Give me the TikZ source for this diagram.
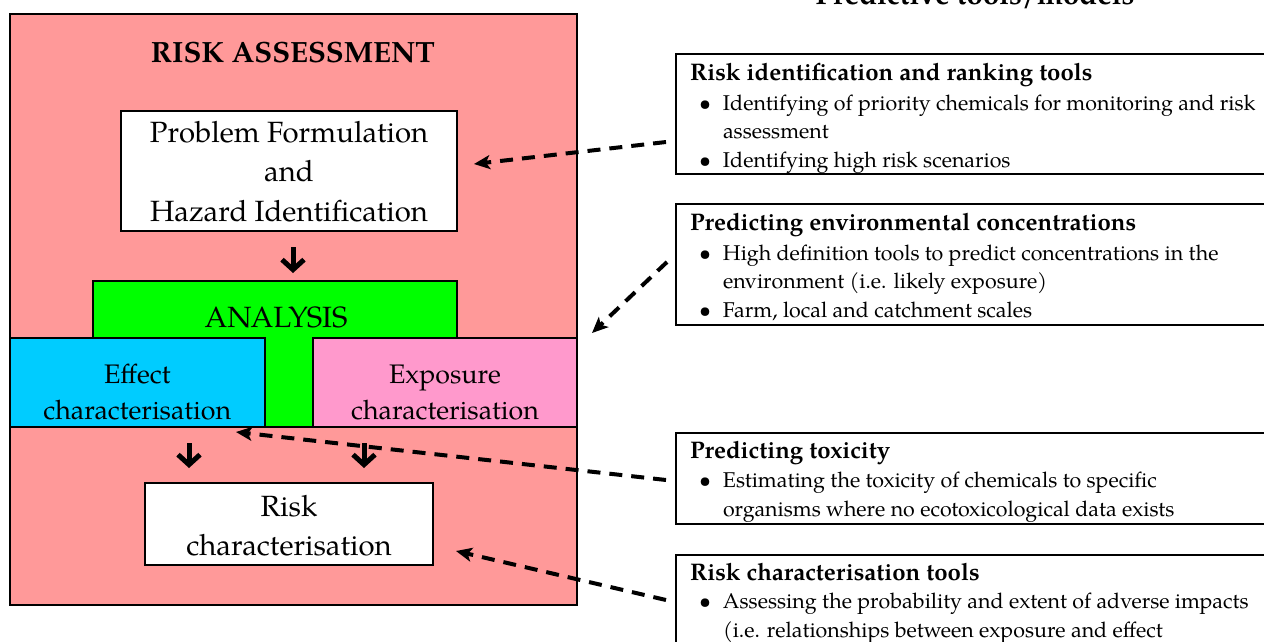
\documentclass[tikz,border=0pt]{standalone}
\usepackage{fontspec}
\setmainfont{TeX Gyre Pagella}
\usetikzlibrary{arrows.meta,calc}
\definecolor{salmonbg}{HTML}{FF9999}
\definecolor{limeg}{HTML}{00FF00}
\definecolor{cyanb}{HTML}{00CCFF}
\definecolor{pinkb}{HTML}{FF99CC}
\newcommand{\bul}{\makebox[33pt][l]{\hspace*{9pt}\textbullet}}
\newcommand{\ind}{\hspace*{33pt}}
\newcommand{\hd}[1]{{\fontsize{24}{28.5}\selectfont\bfseries #1}}
\begin{document}
\begin{tikzpicture}[x=1pt,y=-1pt,
  bigfont/.style={font=\fontsize{29.3}{39.5}\selectfont},
  midfont/.style={font=\fontsize{26.8}{36}\selectfont},
  smallfont/.style={font=\fontsize{21.4}{28.5}\selectfont},
  frame/.style={draw=black, line width=2pt},
  boxnode/.style={frame, inner sep=0pt, outer sep=0pt},
  plain/.style={inner sep=0pt, outer sep=0pt},
  downarr/.style={line width=5pt, -{Straight Barb[length=10pt,width=22pt]}},
  dasharr/.style={line width=4pt, dash pattern=on 13pt off 9pt, -{Stealth[length=16pt,width=14pt,inset=4pt]}},
]
\useasboundingbox (0,0) rectangle (1264,641);

% ---------- left: risk assessment ----------
\node[boxnode, fill=salmonbg, minimum width=567.4, minimum height=591] (ra) at (293.3,309.5) {};
\node[plain, font=\bfseries\fontsize{29.3}{39.5}\selectfont, anchor=base] (rat) at (293,62.3) {RISK ASSESSMENT};

\node[boxnode, fill=white, minimum width=336, minimum height=120] (prob) at (289,171) {};
\node[plain, bigfont, anchor=base] (probt) at (289,142)
  {\begin{tabular}[t]{@{}c@{}}Problem Formulation\\ and\\ Hazard Identification\end{tabular}};

% green T
\node[plain, minimum width=364, minimum height=57] (anal) at (275,309.5) {};
\filldraw[fill=limeg, draw=black, line width=2pt]
  (93,281) -- (457,281) -- (457,338) -- (313,338) -- (313,427) -- (265,427) -- (265,338) -- (93,338) -- cycle;
\node[plain, bigfont, anchor=base] (analt) at (276,327) {ANALYSIS};

\node[boxnode, fill=cyanb, minimum width=255.4, minimum height=89] (eff) at (137.3,382.5) {};
\node[plain, midfont, anchor=base] (efft) at (137.3,383)
  {\begin{tabular}[t]{@{}c@{}}Effect\\ characterisation\end{tabular}};
\node[boxnode, fill=pinkb, minimum width=264, minimum height=89] (expo) at (445,382.5) {};
\node[plain, midfont, anchor=base] (expot) at (445,383)
  {\begin{tabular}[t]{@{}c@{}}Exposure\\ characterisation\end{tabular}};

\node[boxnode, fill=white, minimum width=288, minimum height=82] (risk) at (289,524) {};
\node[plain, font=\fontsize{29.3}{39}\selectfont, anchor=base] (riskt) at (289,516)
  {\begin{tabular}[t]{@{}c@{}}Risk\\ characterisation\end{tabular}};

% down arrows
\coordinate (pa) at ([xshift=4pt]prob.south);
\draw[downarr, shorten <=16pt, shorten >=8pt] (pa) -- (pa |- anal.north);
\coordinate (ea) at ([xshift=51.7pt]eff.south);
\draw[downarr, shorten <=16pt, shorten >=15pt] (ea) -- (ea |- risk.north);
\coordinate (xa) at ([xshift=-81pt]expo.south);
\draw[downarr, shorten <=16pt, shorten >=15pt] (xa) -- (xa |- risk.north);

% ---------- right: predictive tools ----------
\node[plain, font=\bfseries\fontsize{29.3}{36}\selectfont, anchor=base] (title) at (975,4.5) {Predictive tools/models};

\node[plain, minimum width=620, minimum height=120, anchor=north west] (b1) at (676,54) {};
\draw[frame] (b1.north east) -- (b1.north west) -- (b1.south west) -- (b1.south east);
\node[plain, smallfont, anchor=base west] (t1) at (690,80)
  {\begin{tabular}[t]{@{}l@{}}\hd{Risk identification and ranking tools}\\[1.5pt]
   \bul Identifying of priority chemicals for monitoring and risk\\
   \ind assessment\\
   \bul Identifying high risk scenarios\end{tabular}};

\node[plain, minimum width=620, minimum height=121, anchor=north west] (b2) at (676,204) {};
\draw[frame] (b2.north east) -- (b2.north west) -- (b2.south west) -- (b2.south east);
\node[plain, smallfont, anchor=base west] (t2) at (690,230)
  {\begin{tabular}[t]{@{}l@{}}\hd{Predicting environmental concentrations}\\[1.5pt]
   \bul High definition tools to predict concentrations in the\\
   \ind environment (i.e. likely exposure)\\
   \bul Farm, local and catchment scales\end{tabular}};

\node[plain, minimum width=620, minimum height=91, anchor=north west] (b3) at (676,433) {};
\draw[frame] (b3.north east) -- (b3.north west) -- (b3.south west) -- (b3.south east);
\node[plain, smallfont, anchor=base west] (t3) at (690,458)
  {\begin{tabular}[t]{@{}l@{}}\hd{Predicting toxicity}\\[1pt]
   \bul Estimating the toxicity of chemicals to specific\\
   \ind organisms where no ecotoxicological data exists\end{tabular}};

\node[plain, minimum width=620, minimum height=150, anchor=north west] (b4) at (676,555) {};
\draw[frame] (b4.north east) -- (b4.north west) -- (b4.south west) -- (b4.south east);
\node[plain, smallfont, anchor=base west] (t4) at (690,580)
  {\begin{tabular}[t]{@{}l@{}}\hd{Risk characterisation tools}\\[0pt]
   \bul Assessing the probability and extent of adverse impacts\\
   \ind (i.e. relationships between exposure and effect\end{tabular}};

% ---------- dashed connectors ----------
\draw[dasharr] ($(b1.north west)+(-10,88)$) -- ($(prob.east)+(17,-7)$);
\draw[dasharr] ($(b2.north west)+(-9,58)$) -- ($(expo.north east)+(15,-5)$);
\draw[dasharr] ($(b3.north west)+(-10,47)$) -- ($(eff.south east)+(-29,5)$);
\draw[dasharr] ($(b4.north west)+(-10,45)$) -- ($(risk.east)+(23,27)$);
\end{tikzpicture}
\end{document}
